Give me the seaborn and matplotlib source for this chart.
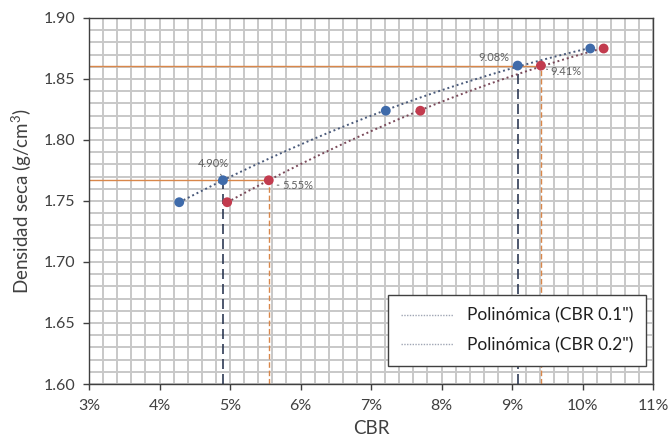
import numpy as np
import pandas as pd
import matplotlib
matplotlib.use("Agg")
import matplotlib.pyplot as plt
import seaborn as sns
from matplotlib.ticker import MultipleLocator, FuncFormatter

# ---- data ----
cbr_01 = [4.28, 4.90, 7.21, 9.08, 10.11]      # CBR 0.1" (%)
cbr_02 = [4.96, 5.55, 7.70, 9.41, 10.30]      # CBR 0.2" (%)
density = [1.749, 1.767, 1.824, 1.861, 1.875]  # g/cm3

ref_density = [1.767, 1.861]
ref_cbr_01 = [4.90, 9.08]
ref_cbr_02 = [5.55, 9.41]
ref_labels_01 = ["4.90%", "9.08%"]
ref_labels_02 = ["5.55%", "9.41%"]

legend_labels = ['Polinómica (CBR 0.1")', 'Polinómica (CBR 0.2")']
x_label = "CBR"
y_label = "Densidad seca (g/cm$^{3}$)"

sns.set_theme(style="white")
plt.rcParams['font.family'] = ['Lato', 'DejaVu Sans']
plt.rcParams['mathtext.fontset'] = 'custom'
plt.rcParams['mathtext.rm'] = 'Lato'
plt.rcParams['mathtext.it'] = 'Lato'

fig = plt.figure(figsize=(6.71, 4.46), dpi=100)
ax = fig.add_axes([89/671, 1-384/446, 564/671, 366/446])

blue = "#3F6BAA"
red = "#C23B4E"
blue_line = "#2F3B55"
red_line = "#D9874A"

df = pd.DataFrame({
    "cbr": cbr_01 + cbr_02,
    "dens": density + density,
    "serie": ["0.1"] * len(cbr_01) + ["0.2"] * len(cbr_02),
})

# grid
ax.set_xlim(3, 11)
ax.set_ylim(1.60, 1.90)
ax.xaxis.set_major_locator(MultipleLocator(1))
ax.xaxis.set_minor_locator(MultipleLocator(0.2))
ax.yaxis.set_major_locator(MultipleLocator(0.05))
ax.yaxis.set_minor_locator(MultipleLocator(0.01))
ax.grid(True, which="both", color="#c8c8c8", lw=1.4)
ax.set_axisbelow(True)

# reference lines
for d, c1, c2 in zip(ref_density, ref_cbr_01, ref_cbr_02):
    ax.plot([3, c2], [d, d], color=red_line, lw=1.0, zorder=2)
    ax.plot([c1, c1], [1.60, d], color=blue_line, lw=1.2, ls=(0, (6, 3)), zorder=2)
    ax.plot([c2, c2], [1.60, d], color=red_line, lw=1.0, ls=(0, (4, 2)), zorder=2)

# polynomial trend lines
trend_handles = []
for xs, col, lab in [(cbr_01, "#4A5A7A", legend_labels[0]), (cbr_02, "#7A4A5A", legend_labels[1])]:
    coef = np.polyfit(xs, density, 2)
    xx = np.linspace(min(xs), max(xs), 200)
    yy = np.polyval(coef, xx)
    sns.lineplot(x=xx, y=yy, ax=ax, color=col, lw=1.4, ls=(0, (1, 1.5)), zorder=3)
    h, = ax.plot([], [], color="#a0a6b4", lw=1.0, ls=(0, (1, 1)), label=lab)
    trend_handles.append(h)

# points
sns.scatterplot(data=df, x="cbr", y="dens", hue="serie",
                palette={"0.1": blue, "0.2": red}, s=50,
                edgecolor="none", ax=ax, legend=False, zorder=4)

# annotations
ann_kw = dict(fontsize=8, color="#606060",
              arrowprops=dict(arrowstyle="-", color="#707070", lw=0.8))
ax.annotate(ref_labels_01[0], xy=(ref_cbr_01[0], ref_density[0] + 0.002),
            xytext=(4.76, 1.781), ha="center", va="center", **ann_kw)
ax.annotate(ref_labels_02[0], xy=(ref_cbr_02[0] + 0.12, ref_density[0] - 0.004),
            xytext=(5.74, 1.7625), ha="left", va="center", **ann_kw)
ax.annotate(ref_labels_01[1], xy=(ref_cbr_01[1], ref_density[1] + 0.002),
            xytext=(8.74, 1.868), ha="center", va="center", **ann_kw)
ax.annotate(ref_labels_02[1], xy=(ref_cbr_02[1] + 0.08, ref_density[1] - 0.003),
            xytext=(9.55, 1.856), ha="left", va="center", **ann_kw)

# axes styling
ax.xaxis.set_major_formatter(FuncFormatter(lambda v, p: f"{v:.0f}%"))
ax.yaxis.set_major_formatter(FuncFormatter(lambda v, p: f"{v:.2f}"))
ax.tick_params(axis="both", which="major", length=4, width=1, color="#404040",
               labelsize=11.5, labelcolor="#404040", direction="out",
               bottom=True, left=True)
ax.tick_params(axis="x", which="major", pad=7)
ax.tick_params(axis="y", which="major", pad=6)
ax.tick_params(axis="both", which="minor", length=0)
for s in ax.spines.values():
    s.set_color("#404040")
    s.set_linewidth(1.0)
ax.set_xlabel(x_label, fontsize=13.5, color="#404040", labelpad=5)
ax.set_ylabel(y_label, fontsize=13.5, color="#404040", labelpad=7)

leg = ax.legend(handles=trend_handles, loc="lower right",
                bbox_to_anchor=(0.9876, 0.049), fontsize=12.5,
                frameon=True, fancybox=False, edgecolor="#404040",
                framealpha=1, handlelength=3.0, handletextpad=0.8,
                borderpad=0.75, labelspacing=0.75, borderaxespad=0)
leg.get_frame().set_linewidth(1.0)
for t in leg.get_texts():
    t.set_color("#202020")

fig.savefig("out.png", dpi=100)
